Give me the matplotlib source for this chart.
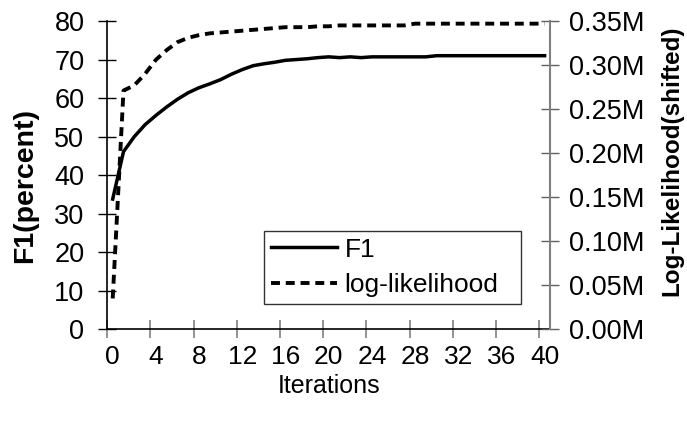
import numpy as np
import matplotlib
matplotlib.use("Agg")
import matplotlib.pyplot as plt
from matplotlib.ticker import FuncFormatter, FixedLocator

plt.rcParams['font.family'] = ['Liberation Sans', 'DejaVu Sans']

iterations = list(range(41))
f1 = [33.8, 46.1, 50.0, 53.1, 55.5, 57.7, 59.7, 61.4, 62.7, 63.7,
      64.8, 66.2, 67.4, 68.4, 68.9, 69.3, 69.8, 70.0, 70.2, 70.5,
      70.7, 70.5, 70.7, 70.5, 70.7, 70.7, 70.7, 70.7, 70.7, 70.7,
      71.0, 71.0, 71.0, 71.0, 71.0, 71.0, 71.0, 71.0, 71.0, 71.0, 71.0]
loglik = [35000, 271000, 277000, 290000, 306000, 317000, 326000, 331000, 334000, 336000,
          337000, 338000, 339000, 340000, 341000, 342000, 343000, 343000, 343000, 344000,
          344000, 345000, 345000, 345000, 345000, 345000, 345000, 345000, 347000, 347000,
          347000, 347000, 347000, 347000, 347000, 347000, 347000, 347000, 347000, 347000, 347000]
xtick_labels = [str(v) for v in range(0, 41, 4)]

# excel-style category axis: points sit in the middle of each category
xpos = np.array(iterations) + 0.5

fig = plt.figure(figsize=(6.87, 4.22), dpi=100)
ax = fig.add_axes([0.1562, 0.2197, 0.8006 - 0.1562, 0.9502 - 0.2197])
ax2 = ax.twinx()

l1, = ax.plot(xpos, f1, color='black', lw=2.5, solid_joinstyle='round')
l2, = ax2.plot(xpos, loglik, color='black', lw=2.8, dashes=(2.3, 1.5))

ax.set_xlim(0, 41)
ax.set_ylim(0, 80)
ax2.set_ylim(0, 350000)
ax.set_yticks(range(0, 81, 10))
ax2.set_yticks(np.arange(0, 350001, 50000))
ax2.yaxis.set_major_formatter(FuncFormatter(lambda v, p: f"{v/1e6:.2f}M"))

ax.xaxis.set_major_locator(FixedLocator(range(0, 41, 4)))
ax.xaxis.set_minor_locator(FixedLocator([v + 0.5 for v in range(0, 41, 4)]))
ax.set_xticklabels([])
ax.set_xticklabels(xtick_labels, minor=True)
ax.tick_params(axis='x', which='major', direction='inout', length=13, width=1.2, color='#808080')
ax.tick_params(axis='x', which='minor', length=0, labelsize=19, pad=11)
ax.tick_params(axis='y', direction='inout', length=13, width=1, color='black', labelsize=19.5, pad=10)
ax2.tick_params(axis='y', direction='inout', length=13, width=1, color='#606060', labelsize=19.5, pad=7)

for a in (ax, ax2):
    a.spines['top'].set_visible(False)
ax.spines['right'].set_visible(False)
ax2.spines['left'].set_visible(False)
ax2.spines['bottom'].set_visible(False)
ax2.spines['right'].set_color('#808080')
ax2.spines['right'].set_linewidth(1.5)
ax.spines['left'].set_linewidth(1.2)
ax.spines['bottom'].set_linewidth(1.2)

ax.set_xlabel('Iterations', fontsize=18, labelpad=4)
ax.set_ylabel('F1(percent)', fontsize=20.5, fontweight='bold')
ax.yaxis.set_label_coords(-0.157, 0.468)
ax2.set_ylabel('Log-Likelihood(shifted)', fontsize=17.5, fontweight='bold')
ax2.yaxis.set_label_coords(1.250, 0.546)

leg = ax.legend([l1, l2], ['F1', 'log-likelihood'], loc='lower left',
                bbox_to_anchor=(0.354, 0.082, 0.58, 0.237), mode='expand',
                fontsize=19, frameon=True, fancybox=False, edgecolor='black',
                handlelength=2.5, handletextpad=0.3, borderpad=0.25,
                labelspacing=0.45, borderaxespad=0)
leg.get_frame().set_linewidth(1.0)

fig.savefig('out.png', dpi=100)
